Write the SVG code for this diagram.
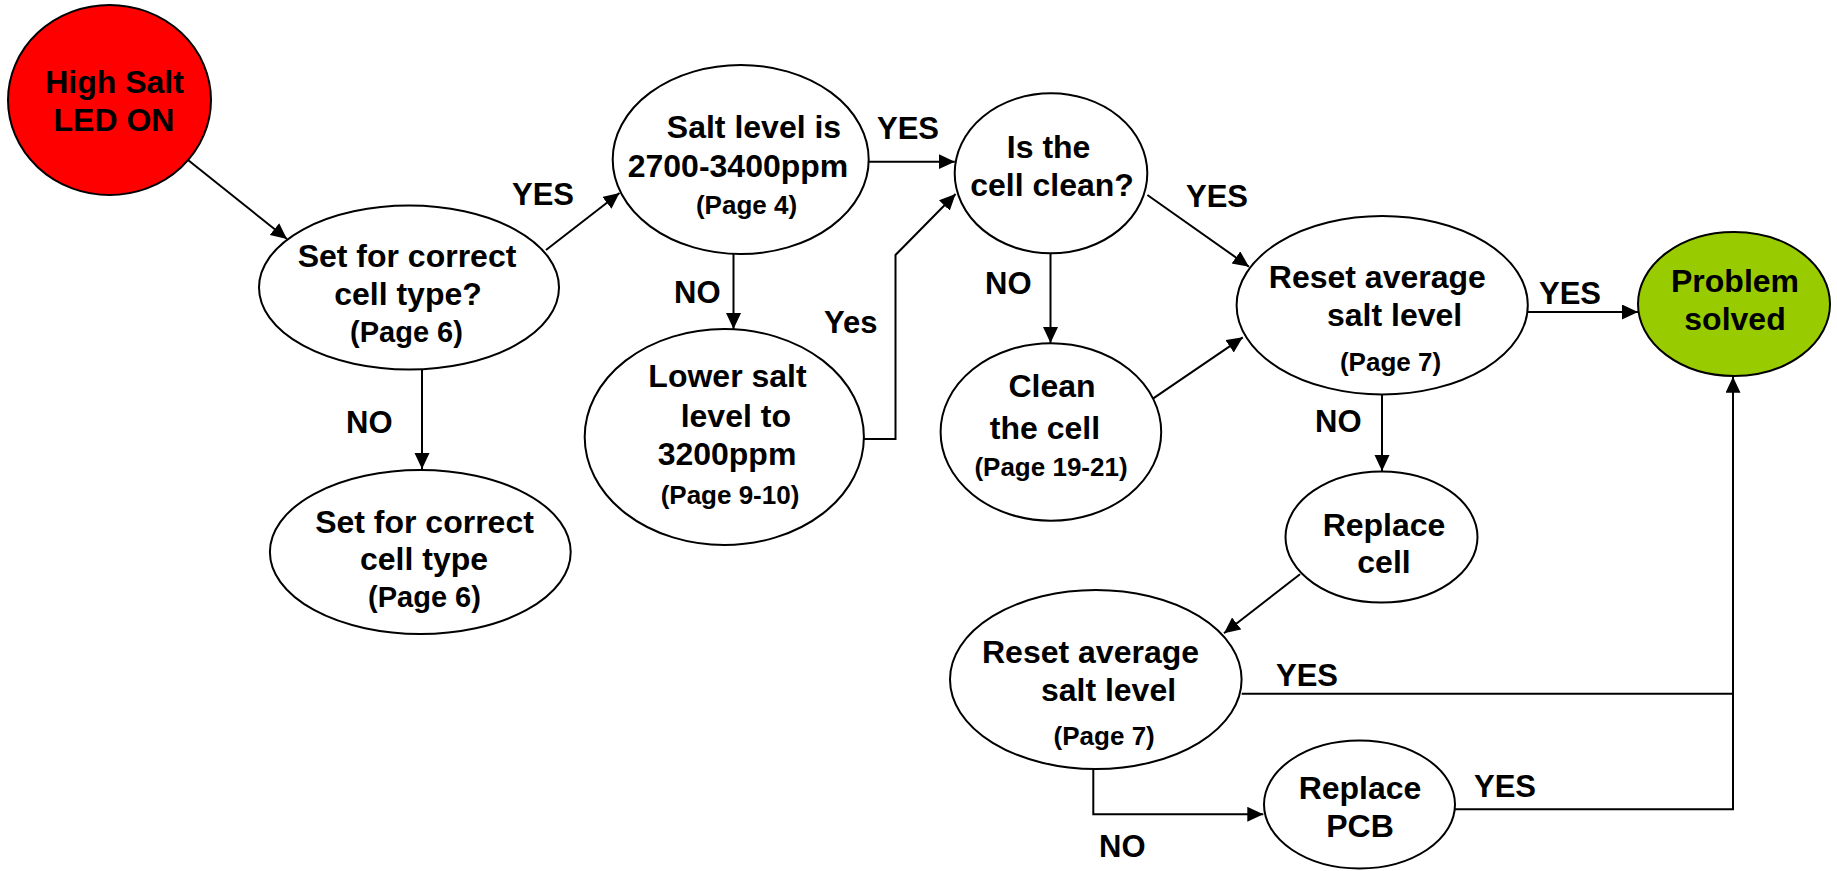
<svg xmlns="http://www.w3.org/2000/svg" width="1837" height="871" viewBox="0 0 1837 871">
<style>
.n{fill:#fff;stroke:#000;stroke-width:2}
.t{font-family:"Liberation Sans",Arial,sans-serif;font-weight:bold;font-size:32px;text-anchor:middle;fill:#000}
.s{font-size:26px}
.m{font-size:29px}
.l{font-family:"Liberation Sans",Arial,sans-serif;font-weight:bold;font-size:31px;fill:#000}
.c{fill:none;stroke:#000;stroke-width:2}
</style>
<defs>
<marker id="a" markerUnits="userSpaceOnUse" markerWidth="17" markerHeight="16" refX="16" refY="7.5" orient="auto">
<path d="M0,0 L16,7.5 L0,15 z" fill="#000"/>
</marker>
</defs>
<rect width="1837" height="871" fill="#fff"/>
<g id="connectors">
<path class="c" d="M188,160 L287,239" marker-end="url(#a)"/>
<path class="c" d="M546,250 L619.5,193" marker-end="url(#a)"/>
<path class="c" d="M422,369 L422,469" marker-end="url(#a)"/>
<path class="c" d="M733.5,254 L733.5,329" marker-end="url(#a)"/>
<path class="c" d="M868.6,161.7 L954.8,161.7" marker-end="url(#a)"/>
<path class="c" d="M864,439 L895.5,439 L895.5,255 L955.6,194" marker-end="url(#a)"/>
<path class="c" d="M1050.5,253 L1050.5,343" marker-end="url(#a)"/>
<path class="c" d="M1147.4,195 L1249,266.7" marker-end="url(#a)"/>
<path class="c" d="M1153.3,398.3 L1242.8,337.3" marker-end="url(#a)"/>
<path class="c" d="M1527.8,312 L1638,312" marker-end="url(#a)"/>
<path class="c" d="M1382,394 L1382,471" marker-end="url(#a)"/>
<path class="c" d="M1300,574.3 L1224,633.3" marker-end="url(#a)"/>
<path class="c" d="M1241.7,693.7 L1733,693.7"/>
<path class="c" d="M1455,809.3 L1733,809.3 L1733,376.7" marker-end="url(#a)"/>
<path class="c" d="M1093.3,769 L1093.3,814.3 L1263.3,814.3" marker-end="url(#a)"/>
<text class="l" x="512" y="205">YES</text>
<text class="l" x="346" y="433">NO</text>
<text class="l" x="674" y="303">NO</text>
<text class="l" x="824" y="333">Yes</text>
<text class="l" x="877" y="139">YES</text>
<text class="l" x="985" y="294">NO</text>
<text class="l" x="1186" y="207">YES</text>
<text class="l" x="1539" y="304">YES</text>
<text class="l" x="1315" y="432">NO</text>
<text class="l" x="1276" y="686">YES</text>
<text class="l" x="1474" y="797">YES</text>
<text class="l" x="1099" y="857">NO</text>
</g>
<g id="high-salt">
<ellipse cx="109.5" cy="100" rx="101.5" ry="95" fill="#ff0000" stroke="#000" stroke-width="2"/>
<text class="t" x="114.5" y="92.5">High Salt</text>
<text class="t" x="114" y="130.5">LED ON</text>
</g>
<g id="set-cell-q">
<ellipse class="n" cx="409" cy="287.5" rx="150" ry="82"/>
<text class="t" x="407" y="266.7">Set for correct</text>
<text class="t" x="408" y="305">cell type?</text>
<text class="t m" x="406.5" y="341.7">(Page 6)</text>
</g>
<g id="set-cell">
<ellipse class="n" cx="420.3" cy="552" rx="150.4" ry="82"/>
<text class="t" x="424.5" y="532.7">Set for correct</text>
<text class="t" x="424" y="570">cell type</text>
<text class="t m" x="424.5" y="606.7">(Page 6)</text>
</g>
<g id="salt-level">
<ellipse class="n" cx="740.7" cy="159.5" rx="128" ry="94.5"/>
<text class="t" x="754" y="138.3">Salt level is</text>
<text class="t" x="738" y="177.3">2700-3400ppm</text>
<text class="t s" x="746.5" y="214">(Page 4)</text>
</g>
<g id="lower-salt">
<ellipse class="n" cx="724.3" cy="437" rx="139.6" ry="108"/>
<text class="t" x="727.5" y="386.7">Lower salt</text>
<text class="t" x="735.8" y="426.7">level to</text>
<text class="t" x="727" y="465">3200ppm</text>
<text class="t s" x="730" y="504">(Page 9-10)</text>
</g>
<g id="cell-clean-q">
<ellipse class="n" cx="1051" cy="173.3" rx="96.3" ry="80"/>
<text class="t" x="1048.6" y="158.3">Is the</text>
<text class="t" x="1052" y="196">cell clean?</text>
</g>
<g id="clean-cell">
<ellipse class="n" cx="1050.9" cy="432" rx="110.3" ry="88.7"/>
<text class="t" x="1052" y="397.3">Clean</text>
<text class="t" x="1045" y="439.3">the cell</text>
<text class="t s" x="1051" y="476">(Page 19-21)</text>
</g>
<g id="reset-1">
<ellipse class="n" cx="1382.2" cy="305.2" rx="145.6" ry="89.2"/>
<text class="t" x="1377.3" y="288.3">Reset average</text>
<text class="t" x="1394.6" y="325.7">salt level</text>
<text class="t s" x="1390.5" y="370.5">(Page 7)</text>
</g>
<g id="problem-solved">
<ellipse cx="1734" cy="304" rx="96" ry="72" fill="#99cc00" stroke="#000" stroke-width="2"/>
<text class="t" x="1735" y="292">Problem</text>
<text class="t" x="1735" y="330">solved</text>
</g>
<g id="replace-cell">
<ellipse class="n" cx="1381.5" cy="537" rx="96" ry="65.5"/>
<text class="t" x="1384" y="536">Replace</text>
<text class="t" x="1384" y="573.3">cell</text>
</g>
<g id="reset-2">
<ellipse class="n" cx="1095.8" cy="679.5" rx="145.8" ry="89.5"/>
<text class="t" x="1090.5" y="662.7">Reset average</text>
<text class="t" x="1108.5" y="700.7">salt level</text>
<text class="t s" x="1104.2" y="745">(Page 7)</text>
</g>
<g id="replace-pcb">
<ellipse class="n" cx="1359.5" cy="804.5" rx="95.5" ry="64"/>
<text class="t" x="1360" y="799.3">Replace</text>
<text class="t" x="1360" y="837.3">PCB</text>
</g>
</svg>
